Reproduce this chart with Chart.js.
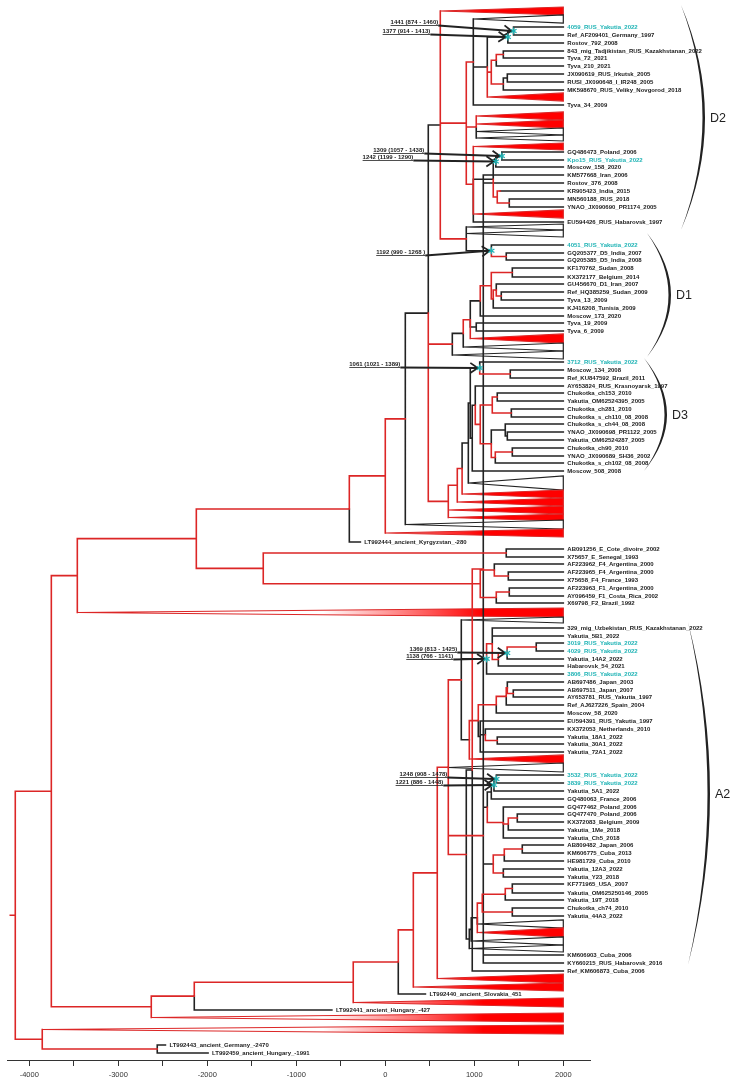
<!DOCTYPE html>
<html>
<head>
<meta charset="utf-8">
<script src="https://cdn.jsdelivr.net/npm/chart.js@4.4.1/dist/chart.umd.min.js"></script>
<style>
  html, body { margin: 0; padding: 0; background: #fff; }
</style>
</head>
<body>
<canvas id="tree" width="734" height="1086"></canvas>
<script>
// ----------------------
// Axis
// ----------------------
const xMin = -4250, xMax = 2300;
const xTicks = [-4000, -3500, -3000, -2500, -2000, -1500, -1000, -500, 0, 500, 1000, 1500, 2000];
const xTickLabels = ['-4000', '', '-3000', '', '-2000', '', '-1000', '', '0', '', '1000', '', '2000'];
const tipYear = 2000;
const rootStart = -4213;

// ----------------------
// Internal nodes: [id, parent, year, branch colour]
// ----------------------
const nodesBackbone = [
  ['R', null, -4157, 'r'], ['A', 'R', -3752, 'r'], ['D', 'R', -3854, 'r'], ['E', 'D', -2562, 'r'],
  ['F', 'A', -3460, 'r'], ['B', 'A', -2629, 'r'], ['C', 'B', -2146, 'r'], ['N', 'C', -360, 'r'],
  ['O', 'N', 146, 'r'], ['P', 'O', 315, 'r'], ['Q', 'P', 584, 'r'],
  ['G', 'F', -2123, 'r'], ['S', 'G', -404, 'r'], ['H', 'G', -1371, 'r'],
  ['U', 'S', 0, 'r'], ['V', 'U', 225, 'r'], ['W', 'V', 483, 'k'],
  ['X', 'W', 618, 'k'], ['Y', 'W', 708, 'r']
];
const nodesD2 = [
  ['Xb', 'X', 910, 'r'], ['Zt', 'Xb', 989, 'r'], ['nB', 'Zt', 1146, 'k'],
  ['nRostov', 'nB', 1377, 'k'], ['n4059', 'nRostov', 1441, 'k'],
  ['nA', 'nB', 1191, 'r'], ['n210', 'nA', 1247, 'r'], ['n843', 'n210', 1326, 'r'],
  ['nMK', 'nA', 1326, 'r'], ['nJX', 'nMK', 1371, 'k'],
  ['nTri', 'Xb', 1022, 'r'], ['Zb', 'Xb', 989, 'r'],
  ['nR2', 'Zb', 1213, 'k'], ['nMos', 'nR2', 1242, 'k'], ['nKpo', 'nMos', 1309, 'k'],
  ['nR1', 'nR2', 1258, 'r'], ['nKR', 'nR1', 1292, 'r'], ['nKM', 'nKR', 1404, 'r'], ['nMN', 'nR1', 1393, 'r']
];
const nodesD1 = [
  ['nD1top', 'X', 910, 'r'], ['n4051', 'nD1top', 1192, 'k'], ['nGQ', 'n4051', 1359, 'r'],
  ['nD1x', 'W', 753, 'r'], ['nD1', 'nD1x', 876, 'k'], ['nRed2', 'nD1', 955, 'r'],
  ['nMos173', 'nRed2', 1067, 'k'], ['nRed1', 'nMos173', 1191, 'r'], ['nKF', 'nRed1', 1427, 'r'],
  ['nGU2', 'nRed1', 1213, 'r'], ['nGU', 'nGU2', 1247, 'r'], ['nRef', 'nGU', 1303, 'r'],
  ['nT19', 'nRed2', 1022, 'k']
];
const nodesD3 = [
  ['Y1', 'Y', 809, 'r'], ['Y2', 'Y1', 863, 'r'], ['Y3', 'Y2', 933, 'k'], ['nF1', 'Y3', 955, 'k'],
  ['n3712', 'nF1', 1061, 'k'], ['nMos134', 'n3712', 1404, 'r'], ['nE1', 'nF1', 977, 'k'],
  ['nD3a', 'nE1', 1011, 'k'], ['nC1', 'nD3a', 1067, 'r'], ['nA1', 'nC1', 1202, 'r'],
  ['nCh153', 'nA1', 1258, 'r'], ['nCh281', 'nA1', 1416, 'r'], ['nB1', 'nC1', 1191, 'r'],
  ['nYN', 'nB1', 1348, 'k'], ['nYN2', 'nYN', 1371, 'k'], ['nCh90b', 'nB1', 1236, 'r'],
  ['nCh90', 'nCh90b', 1427, 'r']
];
const nodesMid = [
  ['nE', 'H', 1359, 'r'], ['I', 'H', 1067, 'r'], ['J', 'I', 1225, 'r'], ['K', 'J', 1382, 'r'],
  ['L', 'I', 1247, 'r'], ['M', 'L', 1393, 'r']
];
const nodesA2 = [
  ['A2root', 'Q', 708, 'r'], ['A2a', 'A2root', 854, 'r'], ['n3806', 'A2a', 1138, 'k'],
  ['nUp', 'n3806', 1202, 'r'], ['nHab', 'nUp', 1270, 'r'], ['n4029', 'nHab', 1369, 'r'],
  ['n3019', 'n4029', 1696, 'r'], ['nA2e', 'A2a', 944, 'k'], ['nA2d', 'nA2e', 1045, 'r'],
  ['nAB4', 'nA2d', 1247, 'r'], ['nAB3', 'nAB4', 1359, 'r'], ['nAB2', 'nAB3', 1371, 'r'],
  ['nAB1', 'nAB2', 1438, 'r'], ['nEU2', 'nA2d', 1067, 'k'], ['nKX', 'nEU2', 1124, 'k'],
  ['nY18', 'nKX', 1258, 'r'], ['nM2', 'A2root', 1101, 'r'], ['nM1', 'nM2', 1146, 'k'],
  ['nGQ480', 'nM1', 1191, 'k'], ['n3839', 'nGQ480', 1221, 'k'], ['n3532', 'n3839', 1248, 'k'],
  ['nG3', 'nM1', 1326, 'r'], ['nG2', 'nG3', 1382, 'r'], ['nG1', 'nG2', 1483, 'r'],
  ['nH4', 'nM2', 1213, 'k'], ['nH2', 'nH4', 1337, 'r'], ['nH1', 'nH2', 1539, 'r'],
  ['nH3', 'nH4', 1326, 'r'], ['nL2', 'A2root', 910, 'r'], ['nK7', 'nL2', 944, 'k'],
  ['nK6', 'nK7', 966, 'k'], ['nK5', 'nK6', 1034, 'k'], ['nK4', 'nK5', 1090, 'r'],
  ['nK2', 'nK4', 1348, 'r'], ['nK1', 'nK2', 1427, 'r'], ['nK3', 'nK4', 1427, 'r'],
  ['nKM2', 'nL2', 977, 'k'], ['nKM', 'nKM2', 1101, 'r']
];

// ----------------------
// Tips: [label, parent, year, row]
// ----------------------
const tipsD2 = [
  ['4059_RUS_Yakutia_2022', 'n4059', 2000, 27], ['Ref_AF209401_Germany_1997', 'n4059', 2000, 35],
  ['Rostov_792_2008', 'nRostov', 2000, 43], ['843_mig_Tadjikistan_RUS_Kazakhstanan_2022', 'n843', 2000, 51],
  ['Tyva_72_2021', 'n843', 2000, 58], ['Tyva_210_2021', 'n210', 2000, 66],
  ['JX090619_RUS_Irkutsk_2005', 'nJX', 2000, 74], ['RUSI_JX090648_I_IR248_2005', 'nJX', 2000, 82],
  ['MK598670_RUS_Veliky_Novgorod_2018', 'nMK', 2000, 90], ['Tyva_34_2009', 'Zt', 2000, 105],
  ['GQ486473_Poland_2006', 'nKpo', 2000, 152], ['Kpo15_RUS_Yakutia_2022', 'nKpo', 2000, 160],
  ['Moscow_158_2020', 'nMos', 2000, 167], ['KM577668_Iran_2006', 'nKM', 2000, 175],
  ['Rostov_376_2008', 'nKM', 2000, 183], ['KR905423_India_2015', 'nKR', 2000, 191],
  ['MN560188_RUS_2018', 'nMN', 2000, 199], ['YNAO_JX090690_PR1174_2005', 'nMN', 2000, 207],
  ['EU594426_RUS_Habarovsk_1997', 'Zb', 2000, 222]
];
const tipsD1 = [
  ['4051_RUS_Yakutia_2022', 'n4051', 2000, 245], ['GQ205377_D5_India_2007', 'nGQ', 2000, 253],
  ['GQ205385_D5_India_2008', 'nGQ', 2000, 260], ['KF170762_Sudan_2008', 'nKF', 2000, 268],
  ['KX372177_Belgium_2014', 'nKF', 2000, 277], ['GU456670_D1_Iran_2007', 'nGU', 2000, 284],
  ['Ref_HQ385259_Sudan_2009', 'nRef', 2000, 292], ['Tyva_13_2009', 'nRef', 2000, 300],
  ['KJ416208_Tunisia_2009', 'nGU2', 2000, 308], ['Moscow_173_2020', 'nMos173', 2000, 316],
  ['Tyva_19_2009', 'nT19', 2000, 323], ['Tyva_6_2009', 'nT19', 2000, 331]
];
const tipsD3 = [
  ['3712_RUS_Yakutia_2022', 'n3712', 2000, 362], ['Moscow_134_2008', 'nMos134', 2000, 370],
  ['Ref_KU847592_Brazil_2011', 'nMos134', 2000, 378], ['AY653824_RUS_Krasnoyarsk_1997', 'nD3a', 2000, 386],
  ['Chukotka_ch153_2010', 'nCh153', 2000, 393], ['Yakutia_OM62524395_2005', 'nCh153', 2000, 401],
  ['Chukotka_ch281_2010', 'nCh281', 2000, 409], ['Chukotka_s_ch110_08_2008', 'nCh281', 2000, 417],
  ['Chukotka_s_ch44_08_2008', 'nYN', 2000, 424], ['YNAO_JX090698_PR1122_2005', 'nYN2', 2000, 432],
  ['Yakutia_OM62524287_2005', 'nYN2', 2000, 440], ['Chukotka_ch90_2010', 'nCh90', 2000, 448],
  ['YNAO_JX090689_SH36_2002', 'nCh90', 2000, 456], ['Chukotka_s_ch102_08_2008', 'nCh90b', 2000, 463],
  ['Moscow_508_2008', 'nE1', 2000, 471]
];
const tipsMid = [
  ['LT992444_ancient_Kyrgyzstan_-280', 'S', -280, 542],
  ['AB091256_E_Cote_divoire_2002', 'nE', 2000, 549], ['X75657_E_Senegal_1993', 'nE', 2000, 557],
  ['AF223962_F4_Argentina_2000', 'J', 2000, 564], ['AF223965_F4_Argentina_2000', 'K', 2000, 572],
  ['X75658_F4_France_1993', 'K', 2000, 580], ['AF223963_F1_Argentina_2000', 'M', 2000, 588],
  ['AY096459_F1_Costa_Rica_2002', 'M', 2000, 596], ['X69798_F2_Brazil_1992', 'L', 2000, 603]
];
const tipsA2 = [
  ['329_mig_Uzbekistan_RUS_Kazakhstanan_2022', 'nUp', 2000, 628], ['Yakutia_5B1_2022', 'nUp', 2000, 636],
  ['3019_RUS_Yakutia_2022', 'n3019', 2000, 643], ['4029_RUS_Yakutia_2022', 'n3019', 2000, 651],
  ['Yakutia_14A2_2022', 'n4029', 2000, 659], ['Habarovsk_54_2021', 'nHab', 2000, 666],
  ['3806_RUS_Yakutia_2022', 'n3806', 2000, 674], ['AB697486_Japan_2003', 'nAB2', 2000, 682],
  ['AB697511_Japan_2007', 'nAB1', 2000, 690], ['AY653781_RUS_Yakutia_1997', 'nAB1', 2000, 697],
  ['Ref_AJ627226_Spain_2004', 'nAB3', 2000, 705], ['Moscow_58_2020', 'nAB4', 2000, 713],
  ['EU594391_RUS_Yakutia_1997', 'nEU2', 2000, 721], ['KX372053_Netherlands_2010', 'nKX', 2000, 729],
  ['Yakutia_18A1_2022', 'nY18', 2000, 737], ['Yakutia_30A1_2022', 'nY18', 2000, 744],
  ['Yakutia_72A1_2022', 'nEU2', 2000, 752], ['3532_RUS_Yakutia_2022', 'n3532', 2000, 775],
  ['3839_RUS_Yakutia_2022', 'n3532', 2000, 783], ['Yakutia_5A1_2022', 'n3839', 2000, 791],
  ['GQ480063_France_2006', 'nGQ480', 2000, 799], ['GQ477462_Poland_2006', 'nG3', 2000, 807],
  ['GQ477470_Poland_2006', 'nG1', 2000, 814], ['KX372083_Belgium_2009', 'nG1', 2000, 822],
  ['Yakutia_1Me_2018', 'nG2', 2000, 830], ['Yakutia_Ch5_2018', 'nG3', 2000, 838],
  ['AB809482_Japan_2006', 'nH1', 2000, 845], ['KM606775_Cuba_2013', 'nH1', 2000, 853],
  ['HE981729_Cuba_2010', 'nH2', 2000, 861], ['Yakutia_12A3_2022', 'nH3', 2000, 869],
  ['Yakutia_Y23_2018', 'nH3', 2000, 877], ['KF771965_USA_2007', 'nK1', 2000, 884],
  ['Yakutia_OM625250146_2005', 'nK1', 2000, 893], ['Yakutia_19T_2018', 'nK2', 2000, 900],
  ['Chukotka_ch74_2010', 'nK3', 2000, 908], ['Yakutia_44A3_2022', 'nK3', 2000, 916],
  ['KM606903_Cuba_2006', 'nKM', 2000, 955], ['KY660215_RUS_Habarovsk_2016', 'nKM', 2000, 963],
  ['Ref_KM606873_Cuba_2006', 'nKM2', 2000, 971]
];
const tipsAncient = [
  ['LT992440_ancient_Slovakia_451', 'O', 451, 994],
  ['LT992441_ancient_Hungary_-427', 'C', -600, 1010],
  ['LT992443_ancient_Germany_-2470', 'E', -2470, 1045],
  ['LT992459_ancient_Hungary_-1991', 'E', -1991, 1053]
];
const highlightTips = ['4059_RUS_Yakutia_2022', 'Kpo15_RUS_Yakutia_2022', '4051_RUS_Yakutia_2022',
  '3712_RUS_Yakutia_2022', '3019_RUS_Yakutia_2022', '4029_RUS_Yakutia_2022', '3806_RUS_Yakutia_2022',
  '3532_RUS_Yakutia_2022', '3839_RUS_Yakutia_2022'];

// ----------------------
// Collapsed clades: [parent, top row, bottom row, fill, branch colour]
// ----------------------
const collapsedClades = [
  ['X', 7, 15, 'r', 'r'], ['Zt', 15, 23, 'w', 'k'], ['nB', 93, 101, 'r', 'r'],
  ['nTri', 112, 120, 'r', 'r'], ['nTri', 120, 128, 'r', 'r'], ['nTri', 128, 135, 'w', 'k'], ['nTri', 135, 141, 'w', 'k'],
  ['Zb', 143, 150, 'r', 'r'], ['Zb', 210, 218, 'r', 'r'],
  ['nD1top', 224, 230, 'w', 'k'], ['nD1top', 230, 237, 'w', 'k'],
  ['nRed2', 334, 343, 'r', 'r'], ['nD1', 343, 351, 'w', 'k'], ['nD1x', 351, 359, 'w', 'k'],
  ['Y3', 476, 490, 'w', 'k'], ['Y2', 490, 498, 'r', 'r'], ['Y1', 498, 506, 'r', 'r'],
  ['Y', 506, 514, 'r', 'r'], ['Y', 514, 521, 'r', 'r'], ['V', 520, 529, 'w', 'k'], ['U', 529, 537, 'r', 'r'],
  ['F', 608, 617, 'r', 'r'], ['A2a', 617, 623, 'w', 'k'], ['nA2e', 755, 763, 'r', 'r'],
  ['A2root', 763, 772, 'w', 'k'], ['nK5', 920, 928, 'w', 'k'], ['nK5', 928, 937, 'r', 'r'],
  ['nK6', 937, 945, 'w', 'k'], ['nK7', 945, 952, 'w', 'k'],
  ['Q', 974, 983, 'r', 'r'], ['P', 983, 991, 'r', 'r'], ['N', 998, 1007, 'r', 'r'],
  ['B', 1013, 1022, 'r', 'r'], ['D', 1025, 1034, 'r', 'r']
];

// ----------------------
// Dated nodes: [text, node, year where text ends, row]
// ----------------------
const nodeDates = [
  ['1441 (874 - 1460)', 'n4059', 595, 23], ['1377 (914 - 1413)', 'nRostov', 506, 32],
  ['1309 (1057 - 1438)', 'nKpo', 438, 151], ['1242 (1199 - 1290)', 'nMos', 315, 158],
  ['1192 (990 - 1268 )', 'n4051', 449, 253], ['1061 (1021 - 1389)', 'n3712', 169, 365],
  ['1369 (813 - 1425)', 'n4029', 809, 650], ['1138 (766 - 1141)', 'n3806', 764, 657],
  ['1248 (908 - 1478)', 'n3532', 697, 775], ['1221 (886 - 1448)', 'n3839', 652, 783]
];

// Genotype brackets: [name, top row, bottom row]
const genotypes = [['D2', 5, 230], ['D1', 233, 357], ['D3', 358, 471], ['A2', 622, 965]];

// ----------------------
// Styles
// ----------------------
const RED = '#dc2626', BLACK = '#222222', CYAN = '#1eb3b5';
const FONT = '"Liberation Sans", Arial, sans-serif';
const gradFrom = -700, gradTo = 1100; // fade of collapsed clades
const bracketStyle = { D2: [681, 24], D1: [647, 24], D3: [644, 23], A2: [688, 22] };

// ----------------------
// Build tree
// ----------------------
const nodeMap = {};
[...nodesBackbone, ...nodesD2, ...nodesD1, ...nodesD3, ...nodesMid, ...nodesA2].forEach(([id, parent, year, col]) => {
  nodeMap[id] = { id, parent, x: year, col, kids: [] };
});
Object.values(nodeMap).forEach(n => { if (n.parent) nodeMap[n.parent].kids.push({ type: 'node', ref: n }); });

const allTips = [...tipsD2, ...tipsD1, ...tipsD3, ...tipsMid, ...tipsA2, ...tipsAncient].map(([label, parent, year, row]) => {
  const t = { label, parent, x: year, y: row, col: 'k' };
  nodeMap[parent].kids.push({ type: 'tip', ref: t });
  return t;
});
const triangles = collapsedClades.map(([parent, top, bottom, fill, col]) => {
  const t = { parent, top, bottom, fill, col, y: (top + bottom) / 2 };
  nodeMap[parent].kids.push({ type: 'tri', ref: t });
  return t;
});

function layout(n) {
  const ys = n.kids.map(k => k.type === 'node' ? layout(k.ref) : k.ref.y);
  n.y = (Math.min(...ys) + Math.max(...ys)) / 2;
  return n.y;
}
layout(nodeMap.R);

const redPts = [], blackPts = [];
const gap = { x: NaN, y: NaN };
function addBranch(p, c, col, toX) {
  const arr = col === 'r' ? redPts : blackPts;
  arr.push({ x: p.x, y: p.y }, { x: p.x, y: c.y });
  if (toX !== null) arr.push({ x: toX, y: c.y });
  arr.push(gap);
}
redPts.push({ x: rootStart, y: nodeMap.R.y }, { x: nodeMap.R.x, y: nodeMap.R.y }, gap);
Object.values(nodeMap).forEach(n => {
  n.kids.forEach(k => {
    if (k.type === 'node') addBranch(n, k.ref, k.ref.col, k.ref.x);
    else if (k.type === 'tip') addBranch(n, k.ref, 'k', k.ref.x);
    else { k.ref.x = n.x; addBranch(n, k.ref, k.ref.col, null); }
  });
});

// ----------------------
// Extras: collapsed clades, labels, dates, brackets
// ----------------------
const treeExtras = {
  id: 'treeExtras',
  beforeDatasetsDraw(chart) {
    const { ctx, scales: { x, y } } = chart;
    const grad = ctx.createLinearGradient(x.getPixelForValue(gradFrom), 0, x.getPixelForValue(gradTo), 0);
    grad.addColorStop(0, '#ffffff');
    grad.addColorStop(1, '#ff0000');
    const bx = x.getPixelForValue(tipYear);
    triangles.forEach(t => {
      ctx.beginPath();
      ctx.moveTo(x.getPixelForValue(t.x), y.getPixelForValue(t.y));
      ctx.lineTo(bx, y.getPixelForValue(t.top));
      ctx.lineTo(bx, y.getPixelForValue(t.bottom));
      ctx.closePath();
      ctx.fillStyle = t.fill === 'r' ? grad : '#ffffff';
      ctx.fill();
      ctx.strokeStyle = t.fill === 'r' ? RED : BLACK;
      ctx.lineWidth = 1.2;
      ctx.stroke();
    });
  },
  afterDatasetsDraw(chart) {
    const { ctx, scales: { x, y } } = chart;
    ctx.save();
    // tip labels
    ctx.font = 'bold 6px ' + FONT;
    ctx.textBaseline = 'middle';
    ctx.textAlign = 'left';
    allTips.forEach(t => {
      ctx.fillStyle = highlightTips.includes(t.label) ? CYAN : BLACK;
      ctx.fillText(t.label, x.getPixelForValue(t.x) + 4, y.getPixelForValue(t.y) + 0.5);
    });
    // dated nodes with arrows
    nodeDates.forEach(([text, id, endYear, row]) => {
      const n = nodeMap[id];
      const nx = x.getPixelForValue(n.x), ny = y.getPixelForValue(n.y);
      const tx = x.getPixelForValue(endYear), ty = y.getPixelForValue(row);
      ctx.fillStyle = BLACK;
      ctx.textAlign = 'right';
      ctx.textBaseline = 'alphabetic';
      ctx.font = 'bold 6px ' + FONT;
      const w = ctx.measureText(text).width;
      ctx.fillText(text, tx, ty + 1);
      ctx.strokeStyle = BLACK;
      ctx.lineWidth = 0.8;
      ctx.beginPath(); ctx.moveTo(tx - w, ty + 2.5); ctx.lineTo(tx, ty + 2.5); ctx.stroke();
      // arrow
      const ex = nx - 2, ey = ny;
      const ang = Math.atan2(ey - (ty + 2.5), ex - tx);
      ctx.lineWidth = 1.8;
      ctx.beginPath(); ctx.moveTo(tx, ty + 2.5); ctx.lineTo(ex, ey); ctx.stroke();
      ctx.beginPath();
      ctx.moveTo(ex - 9 * Math.cos(ang - 0.6), ey - 9 * Math.sin(ang - 0.6));
      ctx.lineTo(ex, ey);
      ctx.lineTo(ex - 9 * Math.cos(ang + 0.6), ey - 9 * Math.sin(ang + 0.6));
      ctx.stroke();
      // asterisk
      ctx.strokeStyle = CYAN;
      ctx.lineWidth = 1.3;
      for (let i = 0; i < 3; i++) {
        const a = Math.PI / 2 + i * Math.PI / 3;
        ctx.beginPath();
        ctx.moveTo(nx + 3.5 * Math.cos(a), ny + 3.5 * Math.sin(a));
        ctx.lineTo(nx - 3.5 * Math.cos(a), ny - 3.5 * Math.sin(a));
        ctx.stroke();
      }
    });
    // genotype brackets
    genotypes.forEach(([name, top, bottom]) => {
      const [x0, bulge] = bracketStyle[name];
      const y0 = y.getPixelForValue(top), y1 = y.getPixelForValue(bottom), ym = (y0 + y1) / 2;
      ctx.fillStyle = BLACK;
      ctx.beginPath();
      ctx.moveTo(x0, y0);
      ctx.quadraticCurveTo(x0 + 2 * bulge, ym, x0, y1);
      ctx.quadraticCurveTo(x0 + 2 * bulge - 5, ym, x0, y0);
      ctx.fill();
      ctx.font = '12.5px ' + FONT;
      ctx.textAlign = 'left';
      ctx.textBaseline = 'middle';
      ctx.fillText(name, x0 + bulge + 5, ym + 1);
    });
    ctx.restore();
  }
};

// ----------------------
// Chart
// ----------------------
const ctx = document.getElementById('tree').getContext('2d');
new Chart(ctx, {
  type: 'scatter',
  data: {
    datasets: [
      { data: redPts, showLine: true, borderColor: RED, borderWidth: 1.6, pointRadius: 0, spanGaps: false, tension: 0, borderJoinStyle: 'miter', borderCapStyle: 'square' },
      { data: blackPts, showLine: true, borderColor: BLACK, borderWidth: 1.6, pointRadius: 0, spanGaps: false, tension: 0, borderJoinStyle: 'miter', borderCapStyle: 'square' }
    ]
  },
  options: {
    responsive: false,
    devicePixelRatio: 1,
    animation: false,
    events: [],
    layout: { padding: { left: 7, right: 144, top: 0, bottom: 0 } },
    plugins: { legend: { display: false }, tooltip: { enabled: false } },
    scales: {
      x: {
        type: 'linear', min: xMin, max: xMax, position: 'bottom',
        afterBuildTicks: s => { s.ticks = xTicks.map(v => ({ value: v })); },
        afterFit: s => { s.height = 26; },
        grid: { drawOnChartArea: false, drawTicks: true, tickLength: 6, color: '#333' },
        border: { display: true, color: '#333', width: 1 },
        ticks: {
          autoSkip: false, maxRotation: 0, padding: 4, color: '#333',
          font: { size: 7.5, family: FONT },
          callback: (v) => xTickLabels[xTicks.indexOf(v)] ?? ''
        }
      },
      y: { type: 'linear', min: 0, max: 1060, reverse: true, display: false }
    }
  },
  plugins: [treeExtras]
});
</script>
</body>
</html>
